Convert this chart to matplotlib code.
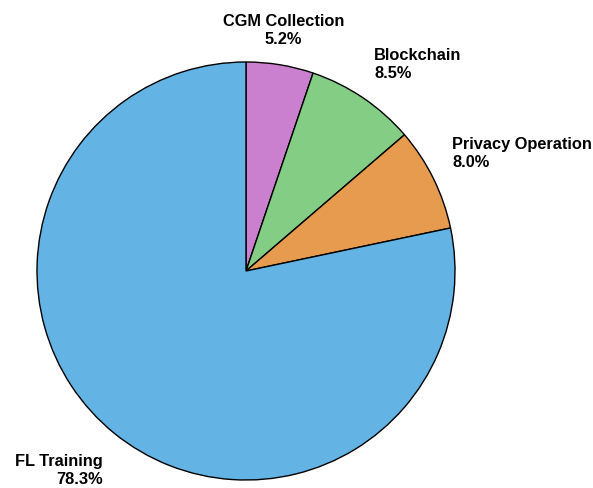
import matplotlib
matplotlib.use("Agg")
import matplotlib.pyplot as plt

plt.rcParams['font.family'] = ['Liberation Sans', 'DejaVu Sans']

# Répartition du temps par étape
labels = ['CGM Collection', 'Blockchain', 'Privacy Operation', 'FL Training']
shares = [5.2, 8.5, 8.0, 78.3]
colors = ['#CA80CE', '#83CE84', '#E69B4F', '#63B3E5']

# position et alignement des étiquettes (unités du rayon)
label_pos = [(0.18, 1.157, 'center'), (0.614, 0.995, 'left'),
             (0.986, 0.567, 'left'), (-0.686, -0.948, 'right')]

fig = plt.figure(figsize=(5.93, 4.89), dpi=100)
ax = fig.add_axes([0, 0, 1, 1])

ax.pie(shares, colors=colors, startangle=90, counterclock=False,
       radius=1.0, center=(0, 0),
       wedgeprops=dict(edgecolor='black', linewidth=1.0))

for lab, val, (x, y, ha) in zip(labels, shares, label_pos):
    ax.text(x, y, f'{lab}\n{val:.1f}%', ha=ha, va='center',
            fontsize=11.8, fontweight='bold', linespacing=1.25,
            multialignment=ha)

ax.set_xlim(-246 / 209, (593 - 246) / 209)
ax.set_ylim(-(489 - 272) / 209, 272 / 209)
ax.set_aspect('auto')
ax.axis('off')

plt.savefig('out.png', dpi=100)
plt.close()
